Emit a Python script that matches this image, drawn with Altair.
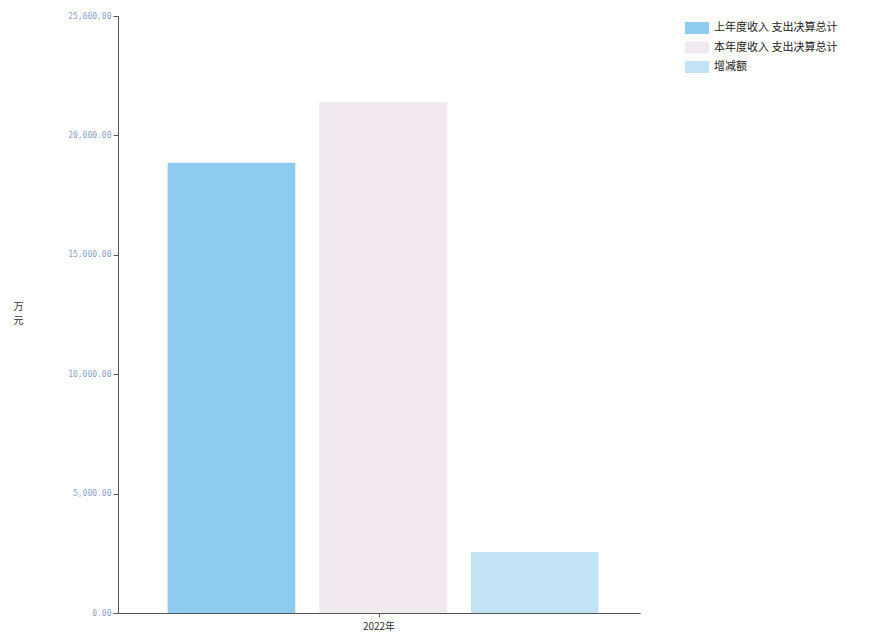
import altair as alt
import pandas as pd

years = ["2022年", "2022年", "2022年"]
series = ["上年度收入 支出决算总计", "本年度收入 支出决算总计", "增减额"]
values = [18850, 21400, 2550]
colors = ["#8ecbee", "#f1e9ef", "#c2e3f3"]

df = pd.DataFrame({"year": years, "series": series, "value": values})

font = "Noto Sans CJK SC"

chart = alt.Chart(df).mark_bar().encode(
    x=alt.X("year:N", title=None,
            scale=alt.Scale(paddingInner=0, paddingOuter=0),
            axis=alt.Axis(labelAngle=0, labelFontSize=10, labelColor="#333",
                          labelFont=font, domainColor="#555", tickColor="#555",
                          tickSize=4, labelPadding=4)),
    xOffset=alt.XOffset("series:N", sort=series,
                        scale=alt.Scale(paddingInner=0.158, paddingOuter=0.3, align=0.545)),
    y=alt.Y("value:Q", title=["万", "元"],
            scale=alt.Scale(domain=[0, 25000]),
            axis=alt.Axis(values=[0, 5000, 10000, 15000, 20000, 25000], format=",.2f",
                          grid=False, labelFontSize=8, labelColor="#8aa3c8",
                          labelFont="DejaVu Sans Mono", domainColor="#555", tickColor="#555",
                          tickSize=5, titleAngle=0, titleX=-100, titleY=290,
                          titleFont=font, titleFontSize=10, titleFontWeight="normal",
                          titleColor="#333", titleAlign="center", titleBaseline="middle",
                          titleLineHeight=14)),
    color=alt.Color("series:N", sort=series,
                    scale=alt.Scale(domain=series, range=colors),
                    legend=alt.Legend(title=None, orient="none", legendX=567, legendY=0,
                                      symbolType="M-1,-0.5H1V0.5H-1Z", symbolSize=576,
                                      symbolStrokeWidth=0, labelFont=font,
                                      labelFontSize=11, labelColor="#222",
                                      labelOffset=5, rowPadding=1.5, symbolOpacity=1)),
).properties(
    width=522, height=597,
    autosize=alt.AutoSizeParams(type="none"),
    padding={"left": 110, "top": 8, "right": 224, "bottom": 18},
).configure_view(stroke=None)

chart.save("out.html", embed_options={"renderer": "svg", "actions": False})
